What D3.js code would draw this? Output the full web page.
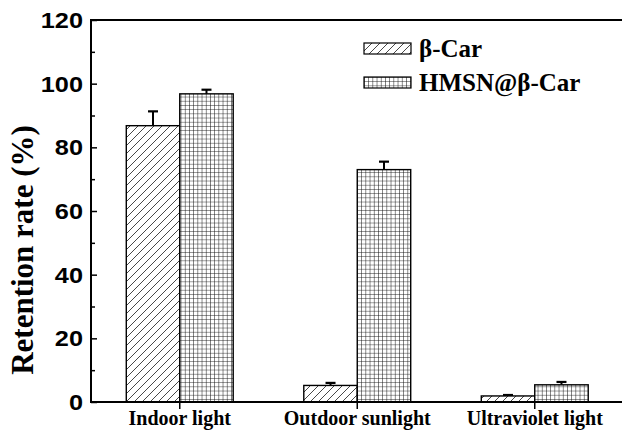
<!DOCTYPE html>
<html>
<head>
<meta charset="utf-8">
<script src="https://cdn.jsdelivr.net/npm/d3@7"></script>
<style>
  body { margin: 0; background: #fff; }
  svg { display: block; }
</style>
</head>
<body>
<div id="chart"></div>
<script>
// data
var categories = ["Indoor light", "Outdoor sunlight", "Ultraviolet light"];
var seriesNames = ["β-Car", "HMSN@β-Car"];
var betaCar = [86.8, 5.2, 1.9];
var betaCarErr = [4.5, 0.8, 0.3];
var hmsn = [96.8, 73.0, 5.4];
var hmsnErr = [1.3, 2.5, 0.9];
var yTicks = [0, 20, 40, 60, 80, 100, 120];

var W = 622, H = 434;
var pL = 91, pR = 623.5, pT = 20, pB = 402;

var svg = d3.select("#chart").append("svg")
  .attr("width", W).attr("height", H);

//patterns
var defs = svg.append("defs");
var p1 = defs.append("pattern")
  .attr("id", "hatch")
  .attr("patternUnits", "userSpaceOnUse")
  .attr("width", 8).attr("height", 8);
p1.append("rect").attr("width", 8).attr("height", 8).attr("fill", "#fff");
p1.append("path")
  .attr("d", "M-2,2 L2,-2 M0,8 L8,0 M6,10 L10,6")
  .attr("stroke", "#333").attr("stroke-width", 0.9);

var p2 = defs.append("pattern")
  .attr("id", "grid")
  .attr("patternUnits", "userSpaceOnUse")
  .attr("width", 4.2).attr("height", 4.2);
p2.append("rect").attr("width", 4.2).attr("height", 4.2).attr("fill", "#fff");
p2.append("path")
  .attr("d", "M0,0 L4.2,0 M0,0 L0,4.2")
  .attr("stroke", "#111").attr("stroke-width", 1);

var x = d3.scaleBand().domain(categories).range([pL, pR]).padding(0);
var xs = d3.scaleBand().domain(seriesNames).range([0, x.bandwidth()])
  .paddingInner(0).paddingOuter(0.66);
var y = d3.scaleLinear().domain([0, 120]).range([pB, pT]);

var rows = categories.map(function(c, i) {
  return [
    {cat: c, s: seriesNames[0], v: betaCar[i], e: betaCarErr[i], fill: "url(#hatch)"},
    {cat: c, s: seriesNames[1], v: hmsn[i], e: hmsnErr[i], fill: "url(#grid)"}
  ];
});
var bars = [].concat.apply([], rows);

// error bars (upper half only)
var eb = svg.append("g");
bars.forEach(function(d) {
  var cx = x(d.cat) + xs(d.s) + xs.bandwidth() / 2;
  eb.append("line")
    .attr("x1", cx).attr("x2", cx)
    .attr("y1", y(d.v)).attr("y2", y(d.v + d.e))
    .attr("stroke", "#000").attr("stroke-width", 2);
  eb.append("line")
    .attr("x1", cx - 5).attr("x2", cx + 5)
    .attr("y1", y(d.v + d.e)).attr("y2", y(d.v + d.e))
    .attr("stroke", "#000").attr("stroke-width", 2.2);
});

svg.append("g").selectAll("rect").data(bars).join("rect")
  .attr("x", function(d) { return x(d.cat) + xs(d.s); })
  .attr("y", function(d) { return y(d.v); })
  .attr("width", xs.bandwidth())
  .attr("height", function(d) { return pB - y(d.v); })
  .attr("fill", function(d) { return d.fill; })
  .attr("stroke", "#000").attr("stroke-width", 1.4);

// y axis, ticks inside
var yAxis = d3.axisRight(y).tickValues(yTicks).tickSize(6).tickFormat("");
var gy = svg.append("g").attr("transform", "translate(" + pL + ",0)").call(yAxis);
gy.select(".domain").remove();
gy.selectAll("line").attr("stroke-width", 1.5);
var yMinor = d3.axisRight(y).tickValues(d3.range(10, 120, 20)).tickSize(4).tickFormat("");
var gm = svg.append("g").attr("transform", "translate(" + pL + ",0)").call(yMinor);
gm.select(".domain").remove();
gm.selectAll("line").attr("stroke-width", 1.5);

svg.append("g").selectAll("text").data(yTicks).join("text")
  .attr("transform", function(d) { return "translate(" + (pL - 8) + "," + y(d) + ") scale(1.15,1)"; })
  .attr("text-anchor", "end")
  .attr("dy", "0.36em")
  .style("font-family", "'Liberation Sans', Arial, sans-serif")
  .style("font-weight", "bold")
  .style("font-size", "22px")
  .text(function(d) { return d; });

// x axis
var xAxis = d3.axisBottom(x).tickSize(7).tickSizeOuter(0).tickFormat("");
var gx = svg.append("g").attr("transform", "translate(0," + pB + ")").call(xAxis);
gx.select(".domain").remove();
gx.selectAll("line").attr("stroke-width", 1.5);

svg.append("g").selectAll("text").data(categories).join("text")
  .attr("x", function(d) { return x(d) + x.bandwidth() / 2; })
  .attr("y", 425)
  .attr("text-anchor", "middle")
  .style("font-family", "'Liberation Serif', 'Times New Roman', serif")
  .style("font-weight", "bold")
  .style("font-size", "20px")
  .text(function(d) { return d; });

// frame lines
svg.append("line").attr("x1", pL).attr("x2", W).attr("y1", pB).attr("y2", pB)
  .attr("stroke", "#000").attr("stroke-width", 2);
svg.append("line").attr("x1", pL).attr("x2", W).attr("y1", pT).attr("y2", pT)
  .attr("stroke", "#000").attr("stroke-width", 2);
svg.append("line").attr("x1", pL).attr("x2", pL).attr("y1", pT - 1).attr("y2", pB + 1)
  .attr("stroke", "#000").attr("stroke-width", 2);

// y title
svg.append("text")
  .attr("transform", "translate(33,250) rotate(-90)")
  .attr("text-anchor", "middle")
  .style("font-family", "'Liberation Serif', 'Times New Roman', serif")
  .style("font-weight", "bold")
  .style("font-size", "31px")
  .text("Retention rate (%)");

// legend
var legend = svg.append("g").attr("transform", "translate(364,43)");
seriesNames.forEach(function(s, i) {
  var g = legend.append("g").attr("transform", "translate(0," + (i * 34) + ")");
  g.append("rect").attr("width", 47).attr("height", 11)
    .attr("fill", i == 0 ? "url(#hatch)" : "url(#grid)")
    .attr("stroke", "#000").attr("stroke-width", 1.2);
  g.append("text").attr("x", 55).attr("y", 5.5).attr("dy", "0.35em")
    .style("font-family", "'Liberation Serif', 'Times New Roman', serif")
    .style("font-weight", "bold")
    .style("font-size", "25px")
    .text(s);
});
</script>
</body>
</html>
